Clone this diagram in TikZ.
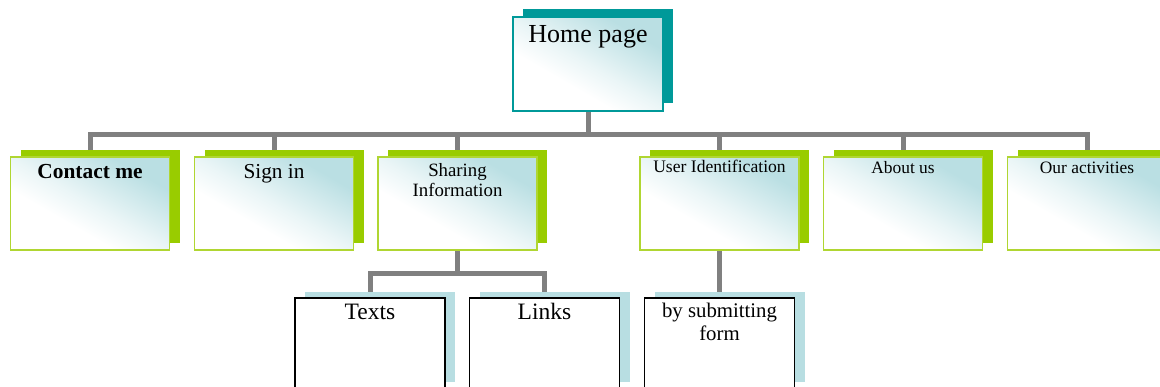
\documentclass[tikz,border=0pt]{standalone}
\usepackage{fontspec}
\setmainfont{Liberation Serif}
\usetikzlibrary{shadows,backgrounds}
\definecolor{teal1}{RGB}{0,153,153}
\definecolor{green1}{RGB}{153,204,0}
\definecolor{green2}{RGB}{176,214,50}
\definecolor{lblue}{RGB}{184,222,226}
\definecolor{gblue}{RGB}{186,223,227}
\definecolor{conn}{RGB}{128,128,128}
\pgfdeclareverticalshading{boxgrad}{100bp}{color(0bp)=(white); color(38bp)=(white); color(50bp)=(white!70!gblue); color(72bp)=(gblue); color(100bp)=(gblue)}
\tikzset{
  fsz/.style={font=\fontsize{#1}{#1}\selectfont},
  gradfill/.style={shading=boxgrad, shading angle=-30},
  homebox/.style={draw=teal1, line width=1.6pt, gradfill, minimum width=150pt, minimum height=94pt, inner sep=0pt,
    copy shadow={shadow xshift=10pt, shadow yshift=8pt, fill=teal1, draw=none}},
  lvlbox/.style={draw=green2, line width=1.6pt, gradfill, minimum width=159pt, minimum height=93pt, inner sep=0pt,
    copy shadow={shadow xshift=10pt, shadow yshift=7pt, fill=green1, draw=none}},
  lowbox/.style={draw=black, line width=1.8pt, fill=white, minimum width=150pt, minimum height=124pt, inner sep=0pt},
  lowshadow/.style={fill=lblue, draw=none, minimum width=150pt, minimum height=90pt, inner sep=0pt},
  txt/.style={anchor=base, inner sep=0pt, text=black},
  connector/.style={draw=conn, line width=5pt, line join=miter},
}
\begin{document}
\begin{tikzpicture}[x=1pt,y=-1pt]
\clip (0,0) rectangle (1160,387);
% home
\node[homebox] (home) at (588,64) {};
\node[txt, fsz=26] (home-t) at (588,43) {Home page};
% level 1
\node[lvlbox] (contact) at (90,203.5) {};
\node[lvlbox] (sign) at (274,203.5) {};
\node[lvlbox] (sharing) at (457.5,203.5) {};
\node[lvlbox] (user) at (719.5,203.5) {};
\node[lvlbox] (about) at (903,203.5) {};
\node[lvlbox] (our) at (1087,203.5) {};
\node[txt, fsz=21.4] (contact-t) at (90,179) {\textbf{Contact me}};
\node[txt, fsz=21.3] (sign-t) at (274,179) {Sign in};
\node[txt, fsz=18.8] (sharing-t1) at (457.5,177) {Sharing};
\node[txt, fsz=18.8] (sharing-t2) at (457.5,197) {Information};
\node[txt, fsz=17.6] (user-t) at (719.5,173) {User Identification};
\node[txt, fsz=17.4] (about-t) at (903,174) {About us};
\node[txt, fsz=17.4] (our-t) at (1087,174) {Our activities};
% level 2 shadows
\node[lowshadow] (texts-s) at (380,337) {};
\node[lowshadow] (links-s) at (554.5,337) {};
\node[lowshadow] (form-s) at (729.5,337) {};
% level 2 boxes
\node[lowbox] (texts) at (370,360) {};
\node[lowbox] (links) at (544.5,360) {};
\node[lowbox] (form) at (719.5,360) {};
\node[txt, fsz=23.5] (texts-t) at (370,320) {Texts};
\node[txt, fsz=23.5] (links-t) at (544.5,320) {Links};
\node[txt, fsz=20.8] (form-t1) at (719.5,318) {by submitting};
\node[txt, fsz=20.8] (form-t2) at (719.5,341) {form};
% connectors
\coordinate (bus1) at (588,134.5);
\coordinate (bus2) at (457.5,274);
\begin{pgfonlayer}{background}
\fill[white] (0,0) rectangle (1160,387);
\draw[connector] (home.south) -- (home.south |- bus1);
\draw[connector] (contact.north) -- (contact.north |- bus1) -- (our.north |- bus1) -- (our.north);
\foreach \n in {sign,sharing,user,about}{
  \draw[connector] (\n.north |- bus1) -- (\n.north);
}
\draw[connector] (sharing.south) -- (bus2);
\draw[connector] (texts.north) -- (texts.north |- bus2) -- (links.north |- bus2) -- (links.north);
\draw[connector] (user.south) -- (form.north);
\end{pgfonlayer}
\end{tikzpicture}
\end{document}
